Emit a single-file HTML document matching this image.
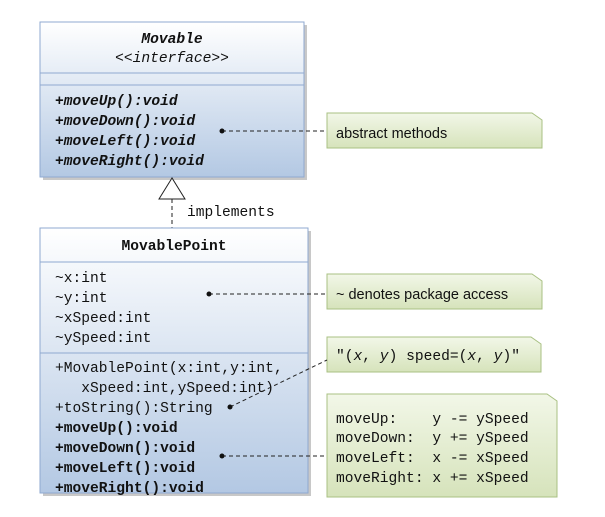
<!DOCTYPE html>
<html><head><meta charset="utf-8"><style>
html,body{margin:0;padding:0;background:#fff;}
svg{display:block;}
text{white-space:pre;}
.m{font-family:"Liberation Mono",monospace;font-size:14.6px;fill:#111;}
.s{font-family:"Liberation Sans",sans-serif;font-size:14.5px;fill:#111;}
</style></head><body>
<svg width="605" height="517" viewBox="0 0 605 517" xmlns="http://www.w3.org/2000/svg">
<defs>
<linearGradient id="bg" x1="0" y1="0" x2="0" y2="1">
<stop offset="0" stop-color="#ffffff"/><stop offset="1" stop-color="#b3c8e3"/></linearGradient>
<linearGradient id="gg" x1="0" y1="0" x2="0" y2="1">
<stop offset="0" stop-color="#f2f7e8"/><stop offset="1" stop-color="#d6e3bb"/></linearGradient>
</defs>
<rect x="43" y="25" width="264" height="155" fill="#c8c8c8"/>
<rect x="43" y="231" width="268" height="265" fill="#c8c8c8"/>
<rect x="40" y="22" width="264" height="155" fill="url(#bg)" stroke="#8fa9d0" stroke-width="1"/>
<line x1="40" y1="73" x2="304" y2="73" stroke="#8fa9d0"/>
<line x1="40" y1="85" x2="304" y2="85" stroke="#8fa9d0"/>
<text x="172" y="43" class="m" text-anchor="middle" font-weight="bold" font-style="italic">Movable</text>
<text x="172" y="62" class="m" text-anchor="middle" font-style="italic">&lt;&lt;interface&gt;&gt;</text>
<g class="m" font-weight="bold" font-style="italic">
<text x="55" y="105">+moveUp():void</text>
<text x="55" y="125">+moveDown():void</text>
<text x="55" y="145">+moveLeft():void</text>
<text x="55" y="165">+moveRight():void</text>
</g>
<line x1="172" y1="199" x2="172" y2="228" stroke="#222" stroke-dasharray="4,3"/>
<polygon points="172,178 159,199 185,199" fill="#fff" stroke="#222"/>
<text x="187" y="216" class="m">implements</text>
<rect x="40" y="228" width="268" height="265" fill="url(#bg)" stroke="#8fa9d0"/>
<line x1="40" y1="262" x2="308" y2="262" stroke="#8fa9d0"/>
<line x1="40" y1="353" x2="308" y2="353" stroke="#8fa9d0"/>
<text x="174" y="250" class="m" text-anchor="middle" font-weight="bold">MovablePoint</text>
<g class="m">
<text x="55" y="282">~x:int</text>
<text x="55" y="302">~y:int</text>
<text x="55" y="322">~xSpeed:int</text>
<text x="55" y="342">~ySpeed:int</text>
<text x="55" y="372">+MovablePoint(x:int,y:int,</text>
<text x="55" y="392">   xSpeed:int,ySpeed:int)</text>
<text x="55" y="412">+toString():String</text>
</g>
<g class="m" font-weight="bold">
<text x="55" y="432">+moveUp():void</text>
<text x="55" y="452">+moveDown():void</text>
<text x="55" y="472">+moveLeft():void</text>
<text x="55" y="492">+moveRight():void</text>
</g>
<g stroke="#a9c083" fill="url(#gg)">
<path d="M327,113 H532 L542,120 V148 H327 Z"/>
<path d="M327,274 H532 L542,281 V309 H327 Z"/>
<path d="M327,337 H531 L541,344 V372 H327 Z"/>
<path d="M327,394 H547 L557,401 V497 H327 Z"/>
</g>
<text x="336" y="138" class="s">abstract methods</text>
<text x="336" y="299" class="s">~ denotes package access</text>
<text x="336" y="360" class="m">"(<tspan font-style="italic">x</tspan>, <tspan font-style="italic">y</tspan>) speed=(<tspan font-style="italic">x</tspan>, <tspan font-style="italic">y</tspan>)"</text>
<g class="m">
<text x="336" y="423">moveUp:    y -= ySpeed</text>
<text x="336" y="442">moveDown:  y += ySpeed</text>
<text x="336" y="462">moveLeft:  x -= xSpeed</text>
<text x="336" y="482">moveRight: x += xSpeed</text>
</g>
<g stroke="#222" stroke-dasharray="4,3">
<line x1="222" y1="131" x2="327" y2="131"/>
<line x1="209" y1="294" x2="327" y2="294"/>
<line x1="230" y1="407" x2="327" y2="360"/>
<line x1="222" y1="456" x2="327" y2="456"/>
</g>
<g fill="#111">
<circle cx="222" cy="131" r="2.5"/>
<circle cx="209" cy="294" r="2.5"/>
<circle cx="230" cy="407" r="2.5"/>
<circle cx="222" cy="456" r="2.5"/>
</g>
</svg>
</body></html>
